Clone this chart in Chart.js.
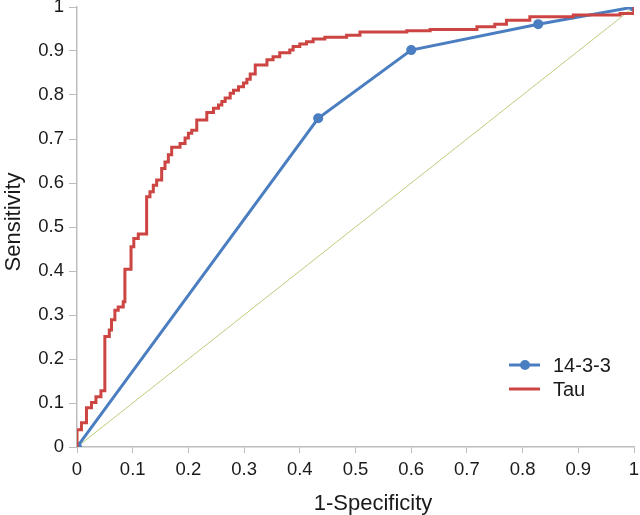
<!DOCTYPE html>
<html>
<head>
<meta charset="utf-8">
<script src="https://cdn.jsdelivr.net/npm/chart.js@4.4.1/dist/chart.umd.min.js"></script>
<style>
  html, body { margin: 0; padding: 0; background: #fff; }
  #wrap { position: relative; width: 640px; height: 515px; }
</style>
</head>
<body>
<div id="wrap"><canvas id="roc" width="640" height="515"></canvas></div>
<script>
// 1-specificity / sensitivity
const tauFpr = [0, 0, 0.008, 0.017, 0.026, 0.034, 0.043, 0.050, 0.058, 0.062, 0.068, 0.074,
  0.083, 0.086, 0.097, 0.102, 0.110, 0.125, 0.131, 0.137, 0.143, 0.152, 0.158, 0.164,
  0.170, 0.185, 0.194, 0.200, 0.206, 0.215, 0.233, 0.245, 0.254, 0.260, 0.266, 0.275,
  0.281, 0.290, 0.299, 0.305, 0.311, 0.320, 0.341, 0.352, 0.364, 0.382, 0.388, 0.400,
  0.412, 0.424, 0.445, 0.484, 0.508, 0.592, 0.634, 0.718, 0.750, 0.771, 0.813, 0.891, 0.975, 1];
const tauTpr = [0, 0.039, 0.055, 0.089, 0.101, 0.114, 0.128, 0.251, 0.266, 0.289, 0.311, 0.318,
  0.330, 0.404, 0.455, 0.474, 0.484, 0.569, 0.580, 0.595, 0.607, 0.633, 0.648, 0.664,
  0.681, 0.690, 0.702, 0.713, 0.720, 0.743, 0.760, 0.770, 0.777, 0.785, 0.793, 0.804,
  0.811, 0.819, 0.827, 0.836, 0.848, 0.868, 0.880, 0.887, 0.896, 0.902, 0.910, 0.916,
  0.921, 0.927, 0.931, 0.936, 0.943, 0.946, 0.949, 0.955, 0.961, 0.970, 0.978, 0.982, 0.985, 1];
const protFpr = [0, 0.433, 0.600, 0.828, 1];
const protTpr = [0, 0.747, 0.902, 0.961, 1];
const refLine = [0, 1];
const xTickLabels = ["0", "0.1", "0.2", "0.3", "0.4", "0.5", "0.6", "0.7", "0.8", "0.9", "1"];
const yTickLabels = ["0", "0.1", "0.2", "0.3", "0.4", "0.5", "0.6", "0.7", "0.8", "0.9", "1"];
const seriesNames = ["14-3-3", "Tau"];
const xTitle = "1-Specificity";
const yTitle = "Sensitivity";

const FONT = "'Liberation Sans', Arial, sans-serif";
const BLUE = "#4a7ec0";
const RED = "#cc4543";
const AXIS = "#bdbdbd";
const INK = "#1a1a1a";

const pts = (xs, ys) => xs.map((x, i) => ({ x, y: ys[i] }));

// axis titles and the legend in the lower right of the plot
const decorations = {
  id: "decorations",
  afterDraw(chart) {
    const ctx = chart.ctx;
    ctx.save();
    ctx.fillStyle = INK;
    ctx.font = "22px " + FONT;
    ctx.textAlign = "center";
    ctx.textBaseline = "alphabetic";
    ctx.fillText(xTitle, 373, 510);
    ctx.save();
    ctx.translate(20, 222);
    ctx.rotate(-Math.PI / 2);
    ctx.fillText(yTitle, 0, 0);
    ctx.restore();

    const items = [
      { name: seriesNames[0], color: BLUE, dot: true },
      { name: seriesNames[1], color: RED, dot: false },
    ];
    ctx.font = "20px " + FONT;
    ctx.textAlign = "left";
    ctx.textBaseline = "middle";
    items.forEach((it, i) => {
      const y = 365 + i * 24;
      ctx.strokeStyle = it.color;
      ctx.lineWidth = 3;
      ctx.beginPath();
      ctx.moveTo(509, y);
      ctx.lineTo(540, y);
      ctx.stroke();
      if (it.dot) {
        ctx.fillStyle = it.color;
        ctx.beginPath();
        ctx.arc(525, y, 5, 0, Math.PI * 2);
        ctx.fill();
      }
      ctx.fillStyle = INK;
      ctx.fillText(it.name, 553, y + 1);
    });
    ctx.restore();
  },
};

new Chart(document.getElementById("roc"), {
  type: "line",
  data: {
    datasets: [
      {
        label: seriesNames[1],
        data: pts(tauFpr, tauTpr),
        borderColor: RED,
        borderWidth: 3,
        stepped: "before", // horizontal run, then the jump at the next point
        pointRadius: 0,
        fill: false,
        order: 1,
      },
      {
        label: seriesNames[0],
        data: pts(protFpr, protTpr),
        borderColor: BLUE,
        backgroundColor: BLUE,
        borderWidth: 3,
        pointRadius: 5,
        pointBorderWidth: 0,
        fill: false,
        order: 2,
      },
      {
        label: "ref",
        data: pts(refLine, refLine),
        borderColor: "#b9cf7d",
        borderWidth: 1,
        pointRadius: 0,
        fill: false,
        order: 3,
      },
    ],
  },
  options: {
    responsive: false,
    animation: false,
    parsing: false,
    layout: { padding: { top: 7, right: 6, left: 0, bottom: 0 } },
    plugins: { legend: { display: false }, tooltip: { enabled: false } },
    scales: {
      x: {
        type: "linear",
        min: 0,
        max: 1,
        afterFit: (s) => { s.height = 68; s.paddingLeft = 0; s.paddingRight = 0; },
        border: { display: true, color: AXIS, width: 1.5 },
        grid: { drawOnChartArea: false, drawTicks: true, tickLength: 6, color: AXIS },
        ticks: {
          stepSize: 0.1,
          padding: 6,
          color: INK,
          font: { family: FONT, size: 18.5 },
          maxRotation: 0,
          callback: (v, i) => xTickLabels[i],
        },
      },
      y: {
        type: "linear",
        min: 0,
        max: 1,
        afterFit: (s) => { s.width = 77; s.paddingTop = 0; s.paddingBottom = 0; },
        border: { display: true, color: AXIS, width: 1.5 },
        grid: { drawOnChartArea: false, drawTicks: true, tickLength: 8, color: AXIS },
        ticks: {
          stepSize: 0.1,
          padding: 5,
          color: INK,
          font: { family: FONT, size: 18.5 },
          callback: (v, i) => yTickLabels[i],
        },
      },
    },
  },
  plugins: [decorations],
});
</script>
</body>
</html>
